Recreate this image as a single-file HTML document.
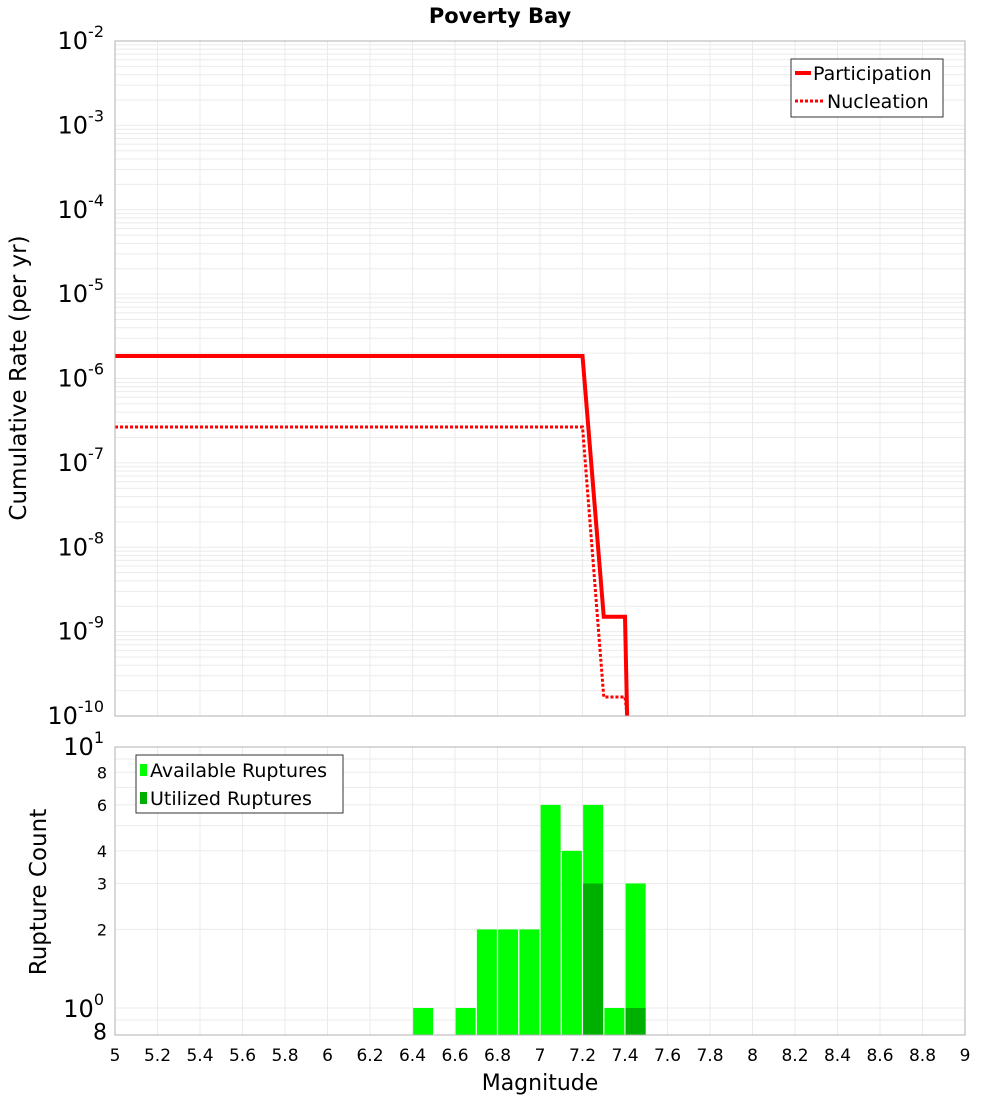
<!DOCTYPE html>
<html><head><meta charset="utf-8"><style>
body{margin:0;background:#fff;font-family:"Liberation Sans","DejaVu Sans",sans-serif}
svg text{font-family:"DejaVu Sans","Liberation Sans",sans-serif}
</style></head><body>
<svg id="c" width="1000" height="1100" xmlns="http://www.w3.org/2000/svg"></svg>
<script>
const partMags=[5.0,7.2,7.3,7.4,7.41];
const partRates=[1.85e-6,1.85e-6,1.5e-9,1.5e-9,1e-12];
const nuclMags=[5.0,7.2,7.3,7.4,7.41];
const nuclRates=[2.66e-7,2.66e-7,1.68e-10,1.68e-10,1e-12];
const binMags=[6.45,6.65,6.75,6.85,6.95,7.05,7.15,7.25,7.35,7.45];
const availCounts=[1,1,2,2,2,6,4,6,1,3];
const utilCounts=[0,0,0,0,0,0,0,3,0,1];
const xTicks=[5,5.2,5.4,5.6,5.8,6,6.2,6.4,6.6,6.8,7,7.2,7.4,7.6,7.8,8,8.2,8.4,8.6,8.8,9];
const topExps=[-2,-3,-4,-5,-6,-7,-8,-9,-10];
const botTicks=[8,6,4,3,2];

const svg=document.getElementById('c');const NS='http://www.w3.org/2000/svg';
function el(t,a,p){const e=document.createElementNS(NS,t);for(const k in a)e.setAttribute(k,a[k]);(p||svg).appendChild(e);return e;}
const X0=115,X1=965;
const xs=m=>X0+(m-5)/4*(X1-X0);
const T0=41,T1=716;
const yt=v=>T0+(-2-Math.log10(v))*(T1-T0)/8;
const B0=747,B1=1035;
const yb=v=>1008-Math.log10(v)*261;

// title
let t=el('text',{x:500,y:23,'text-anchor':'middle','font-size':21,'font-weight':'bold'});t.textContent='Poverty Bay';


// top grid
const gT=el('g',{});
for(let e=-10;e<-2;e++)for(let k=1;k<10;k++){const y=yt(k*Math.pow(10,e));el('line',{x1:X0,x2:X1,y1:y,y2:y,stroke:'#ebebeb','stroke-width':1},gT);}
xTicks.forEach(m=>{el('line',{x1:xs(m),x2:xs(m),y1:T0,y2:T1,stroke:'#ebebeb'},gT);el('line',{x1:xs(m),x2:xs(m),y1:B0,y2:B1,stroke:'#ebebeb'},gT);});
// bottom grid
for(let v=1;v<=10;v++){const y=yb(v);el('line',{x1:X0,x2:X1,y1:y,y2:y,stroke:'#ebebeb'},gT);}
el('line',{x1:X0,x2:X1,y1:yb(0.9),y2:yb(0.9),stroke:'#ebebeb'},gT);

// top y labels
topExps.forEach(e=>{const y=yt(Math.pow(10,e));const tx=el('text',{x:104,y:y+8,'text-anchor':'end','font-size':24});

tx.innerHTML='10<tspan dy="-12" font-size="16">'+e+'</tspan>';});

// series
function path(ms,rs){let d='';ms.forEach((m,i)=>{let y=Math.min(yt(rs[i]),T1);d+=(i?'L':'M')+xs(m)+','+y;});return d;}
const clipP=el('clipPath',{id:'cp'});el('rect',{x:X0,y:T0,width:X1-X0,height:T1-T0},clipP);
let p=el('path',{d:path(nuclMags,nuclRates),fill:'none',stroke:'#ff0000','stroke-width':3,'stroke-dasharray':'3,2','clip-path':'url(#cp)'});

p=el('path',{d:path(partMags,partRates),fill:'none',stroke:'#ff0000','stroke-width':4,'clip-path':'url(#cp)'});


// top frame
el('rect',{x:X0,y:T0,width:X1-X0,height:T1-T0,fill:'none',stroke:'#b0b0b0'});
// top legend
const lg=el('g',{});
el('rect',{x:791,y:59,width:152,height:58,fill:'#fff',stroke:'#333'},lg);
el('line',{x1:795,x2:811,y1:73,y2:73,stroke:'#f00','stroke-width':4},lg);
el('line',{x1:795,x2:823,y1:101,y2:101,stroke:'#f00','stroke-width':3,'stroke-dasharray':'3,2'},lg);
t=el('text',{x:813,y:80,'font-size':19},lg);t.textContent='Participation';
t=el('text',{x:827,y:108,'font-size':19},lg);t.textContent='Nucleation';

t=el('text',{x:26,y:378,'text-anchor':'middle','font-size':23,transform:'rotate(-90 26 378)'});t.textContent='Cumulative Rate (per yr)';


// bars
const bw=0.094*(X1-X0)/4;
binMags.forEach((m,i)=>{const x=xs(m)-bw/2;const y=yb(availCounts[i]);
const r=el('rect',{x:x,y:y,width:bw,height:B1-y,fill:'#00ff00'});

if(utilCounts[i]>0){const yu=yb(utilCounts[i]);const u=el('rect',{x:x,y:yu,width:bw,height:B1-yu,fill:'#00b000'});
}});
el('rect',{x:X0,y:B0,width:X1-X0,height:B1-B0,fill:'none',stroke:'#b0b0b0'});

// bottom y labels
botTicks.forEach(v=>{t=el('text',{x:107,y:yb(v)+6,'text-anchor':'end','font-size':16});t.textContent=v;
});
t=el('text',{x:104,y:yb(10)+8,'text-anchor':'end','font-size':24});t.innerHTML='10<tspan dy="-12" font-size="16">1</tspan>';
t=el('text',{x:104,y:yb(1)+9,'text-anchor':'end','font-size':24});t.innerHTML='10<tspan dy="-12" font-size="16">0</tspan>';
t=el('text',{x:107,y:yb(0.8)+6,'text-anchor':'end','font-size':22});t.textContent='8';

// bottom legend
const lg2=el('g',{});
el('rect',{x:136,y:755,width:207,height:58,fill:'#fff',stroke:'#333'},lg2);
el('rect',{x:140,y:764,width:7,height:12,fill:'#00ff00'},lg2);
el('rect',{x:140,y:792,width:7,height:12,fill:'#00b000'},lg2);
t=el('text',{x:150,y:777,'font-size':19},lg2);t.textContent='Available Ruptures';
t=el('text',{x:150,y:805,'font-size':19},lg2);t.textContent='Utilized Ruptures';

t=el('text',{x:46,y:892,'text-anchor':'middle','font-size':23,transform:'rotate(-90 46 892)'});t.textContent='Rupture Count';


// x ticks
xTicks.forEach(m=>{t=el('text',{x:xs(m),y:1061,'text-anchor':'middle','font-size':17});t.textContent=String(m);
});
t=el('text',{x:540,y:1090,'text-anchor':'middle','font-size':22});t.textContent='Magnitude';

</script>
</body></html>
